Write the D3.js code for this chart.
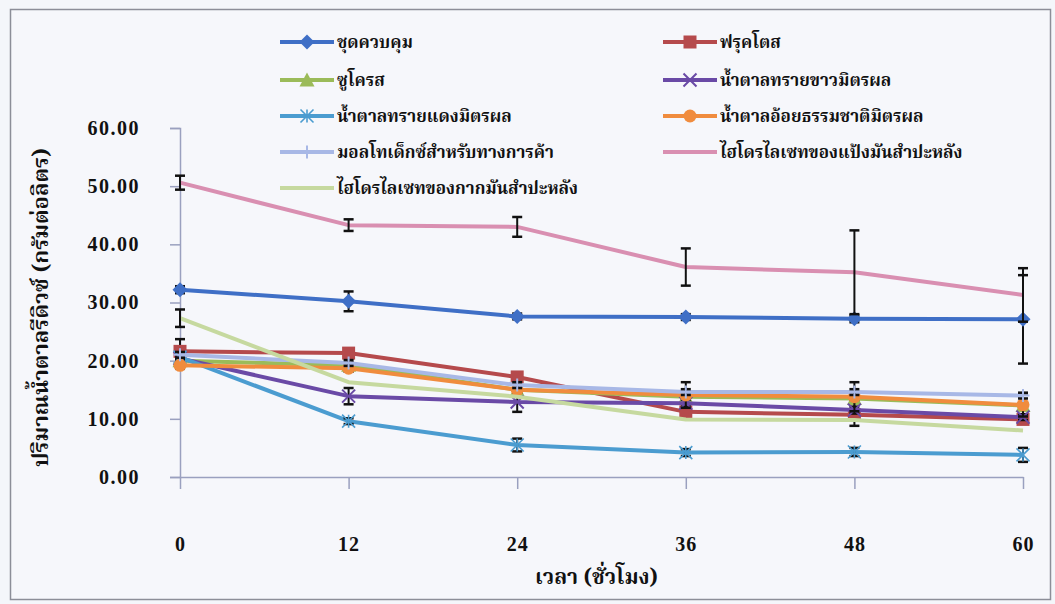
<!DOCTYPE html>
<html>
<head>
<meta charset="utf-8">
<script src="https://cdnjs.cloudflare.com/ajax/libs/d3/7.8.5/d3.min.js"></script>
<style>
  html, body { margin: 0; padding: 0; background: #f4f6fa; }
  svg { display: block; }
  .thai { font-family: "Noto Serif Thai", "Norasi", "Noto Sans Thai", "Loma", "Garuda", "Liberation Serif", serif; font-weight: bold; }
  .num { font-family: "Liberation Serif", "Times New Roman", serif; font-weight: bold; }
</style>
</head>
<body>
<svg id="chart" width="1055" height="604"></svg>
<script>
// Sampling times (hours)
const hours = [0, 12, 24, 36, 48, 60];
const yTicks = [0, 10, 20, 30, 40, 50, 60];

// Series names
const seriesNames = [
  "ชุดควบคุม",
  "ฟรุคโตส",
  "ซูโครส",
  "น้ำตาลทรายขาวมิตรผล",
  "น้ำตาลทรายแดงมิตรผล",
  "น้ำตาลอ้อยธรรมชาติมิตรผล",
  "มอลโทเด็กซ์สำหรับทางการค้า",
  "ไฮโดรไลเซทของแป้งมันสำปะหลัง",
  "ไฮโดรไลเซทของกากมันสำปะหลัง"
];

// Reducing sugar (g/L) and standard deviation per series
const control        = [32.2, 30.2, 27.6, 27.5, 27.2, 27.1];
const controlErr     = [0.6, 1.7, 0.5, 0.5, 0.6, 7.6];
const fructose       = [21.6, 21.3, 17.2, 11.2, 10.7, 9.9];
const fructoseErr    = [2.1, 0.8, 0.6, 0.6, 1.9, 0.7];
const sucrose        = [20.0, 19.2, 15.0, 13.8, 13.5, 12.3];
const sucroseErr     = [0.5, 0.5, 0.5, 0.6, 0.5, 0.5];
const whiteSugar     = [20.4, 13.9, 12.9, 12.7, 11.5, 10.3];
const whiteSugarErr  = [0.5, 1.4, 1.7, 0.6, 0.6, 0.5];
const brownSugar     = [20.6, 9.6, 5.5, 4.2, 4.3, 3.8];
const brownSugarErr  = [0.4, 0.5, 1.1, 0.6, 0.7, 1.2];
const caneSugar      = [19.2, 18.7, 15.0, 14.1, 13.8, 12.4];
const caneSugarErr   = [0.6, 0.6, 0.5, 2.2, 2.5, 2.0];
const commercial     = [21.0, 19.6, 15.8, 14.6, 14.6, 14.0];
const commercialErr  = [0.5, 0.5, 0.5, 0.5, 0.5, 0.5];
const starchHydro    = [50.6, 43.3, 43.0, 36.1, 35.2, 31.3];
const starchHydroErr = [1.2, 1.0, 1.7, 3.2, 7.2, 4.6];
const pulpHydro      = [27.3, 16.3, 13.8, 9.9, 9.8, 8.0];
const pulpHydroErr   = [1.5, 0, 0, 0, 0, 0];

const seriesValues = [control, fructose, sucrose, whiteSugar, brownSugar, caneSugar, commercial, starchHydro, pulpHydro];
const seriesErrors = [controlErr, fructoseErr, sucroseErr, whiteSugarErr, brownSugarErr, caneSugarErr, commercialErr, starchHydroErr, pulpHydroErr];
const seriesColors = ["#3f6fc6", "#b54a4c", "#9bbb59", "#6a4aa6", "#4b9cd0", "#f08c3e", "#a8b8e6", "#d98fb1", "#c6d99f"];
const seriesMarkers = ["diamond", "square", "triangle", "x", "asterisk", "circle", "plus", "none", "none"];

const svg = d3.select("#chart");

// Outer frame
svg.append("rect")
  .attr("x", 10.5).attr("y", 9.5).attr("width", 1040).attr("height", 590)
  .attr("fill", "#f6f7fb").attr("stroke", "#8c8e98").attr("stroke-width", 1.5);

const x = d3.scaleLinear().domain([0, 60]).range([180, 1023]);
const y = d3.scaleLinear().domain([0, 60]).range([477, 128]);

const axisColor = "#9aa0bf";

// Y axis
const yAxis = svg.append("g")
  .attr("transform", `translate(${x(0)},0)`)
  .call(d3.axisLeft(y).tickValues(yTicks).tickFormat(d3.format(".2f")).tickSize(10).tickPadding(30));
yAxis.select(".domain").attr("stroke", axisColor).attr("stroke-width", 1.5);
yAxis.selectAll(".tick line").attr("stroke", axisColor).attr("stroke-width", 1.5);
yAxis.selectAll(".tick text")
  .attr("class", "num").attr("fill", "#111").attr("font-size", 20)
  .attr("letter-spacing", "1.5px");

// X axis
const xAxis = svg.append("g")
  .attr("transform", `translate(0,${y(0)})`)
  .call(d3.axisBottom(x).tickValues(hours).tickFormat(d3.format("d")).tickSize(12).tickSizeOuter(0).tickPadding(48));
xAxis.select(".domain").attr("stroke", axisColor).attr("stroke-width", 1.5);
xAxis.selectAll(".tick line").attr("stroke", axisColor).attr("stroke-width", 1.5);
xAxis.selectAll(".tick text")
  .attr("class", "num").attr("fill", "#111").attr("font-size", 20)
  .attr("letter-spacing", "1px");

// Axis titles
svg.append("text")
  .attr("class", "thai")
  .attr("transform", `translate(48,${(y(0) + y(60)) / 2 + 5}) rotate(-90)`)
  .attr("text-anchor", "middle")
  .attr("font-size", 22).attr("fill", "#111")
  .text("ปริมาณน้ำตาลรีดิวซ์ (กรัมต่อลิตร)");

svg.append("text")
  .attr("class", "thai")
  .attr("x", (x(0) + x(60)) / 2 - 5).attr("y", 584)
  .attr("text-anchor", "middle")
  .attr("font-size", 21).attr("fill", "#111")
  .text("เวลา (ชั่วโมง)");

// Marker drawing
function drawMarker(g, type, color, size) {
  const s = size / 2;
  switch (type) {
    case "diamond":
      g.append("path").attr("d", `M0,${-s - 1}L${s + 1},0L0,${s + 1}L${-s - 1},0Z`).attr("fill", color);
      break;
    case "square":
      g.append("rect").attr("x", -s).attr("y", -s).attr("width", size).attr("height", size).attr("fill", color);
      break;
    case "triangle":
      g.append("path").attr("d", `M0,${-s - 1}L${s + 1},${s}L${-s - 1},${s}Z`).attr("fill", color);
      break;
    case "circle":
      g.append("circle").attr("r", s).attr("fill", color);
      break;
    case "x":
      g.append("path").attr("d", `M${-s},${-s}L${s},${s}M${-s},${s}L${s},${-s}`)
        .attr("stroke", color).attr("stroke-width", 2).attr("fill", "none");
      break;
    case "asterisk":
      g.append("path").attr("d", `M${-s},${-s}L${s},${s}M${-s},${s}L${s},${-s}M0,${-s}L0,${s}`)
        .attr("stroke", color).attr("stroke-width", 1.6).attr("fill", "none");
      break;
    case "plus":
      g.append("path").attr("d", `M${-s},0L${s},0M0,${-s}L0,${s}`)
        .attr("stroke", color).attr("stroke-width", 2).attr("fill", "none");
      break;
  }
}

const line = d3.line()
  .x((d, i) => x(hours[i]))
  .y(d => y(d));

const plot = svg.append("g");

// Each series: line, then its error bars, then its markers
seriesValues.forEach((vals, si) => {
  const g = plot.append("g");
  g.append("path")
    .datum(vals)
    .attr("d", line)
    .attr("fill", "none")
    .attr("stroke", seriesColors[si])
    .attr("stroke-width", 4)
    .attr("stroke-linejoin", "round");
  vals.forEach((v, i) => {
    const e = seriesErrors[si][i];
    if (e <= 0) return;
    const cx = x(hours[i]);
    const y1 = y(v + e), y2 = y(v - e);
    g.append("line").attr("x1", cx).attr("x2", cx).attr("y1", y1).attr("y2", y2)
      .attr("stroke", "#111").attr("stroke-width", 2);
    [y1, y2].forEach(yy => {
      g.append("line").attr("x1", cx - 5).attr("x2", cx + 5).attr("y1", yy).attr("y2", yy)
        .attr("stroke", "#111").attr("stroke-width", 2.5);
    });
  });
  vals.forEach((v, i) => {
    const m = g.append("g").attr("transform", `translate(${x(hours[i])},${y(v)})`);
    drawMarker(m, seriesMarkers[si], seriesColors[si], 13);
  });
});

// Legend (two columns)
const legendRows = [42, 80, 116, 152, 188];
const legend = svg.append("g");
seriesNames.forEach((name, si) => {
  const col = si % 2;
  const row = Math.floor(si / 2);
  const lx = col === 0 ? 280 : 663;
  const ly = legendRows[row];
  const g = legend.append("g").attr("transform", `translate(${lx},${ly})`);
  g.append("line").attr("x1", 0).attr("x2", 54).attr("y1", 0).attr("y2", 0)
    .attr("stroke", seriesColors[si]).attr("stroke-width", 4);
  const m = g.append("g").attr("transform", "translate(27,0)");
  drawMarker(m, seriesMarkers[si], seriesColors[si], 13);
  g.append("text")
    .attr("class", "thai")
    .attr("x", 57).attr("y", 6)
    .attr("font-size", 17).attr("fill", "#111")
    .text(name);
});
</script>
</body>
</html>
